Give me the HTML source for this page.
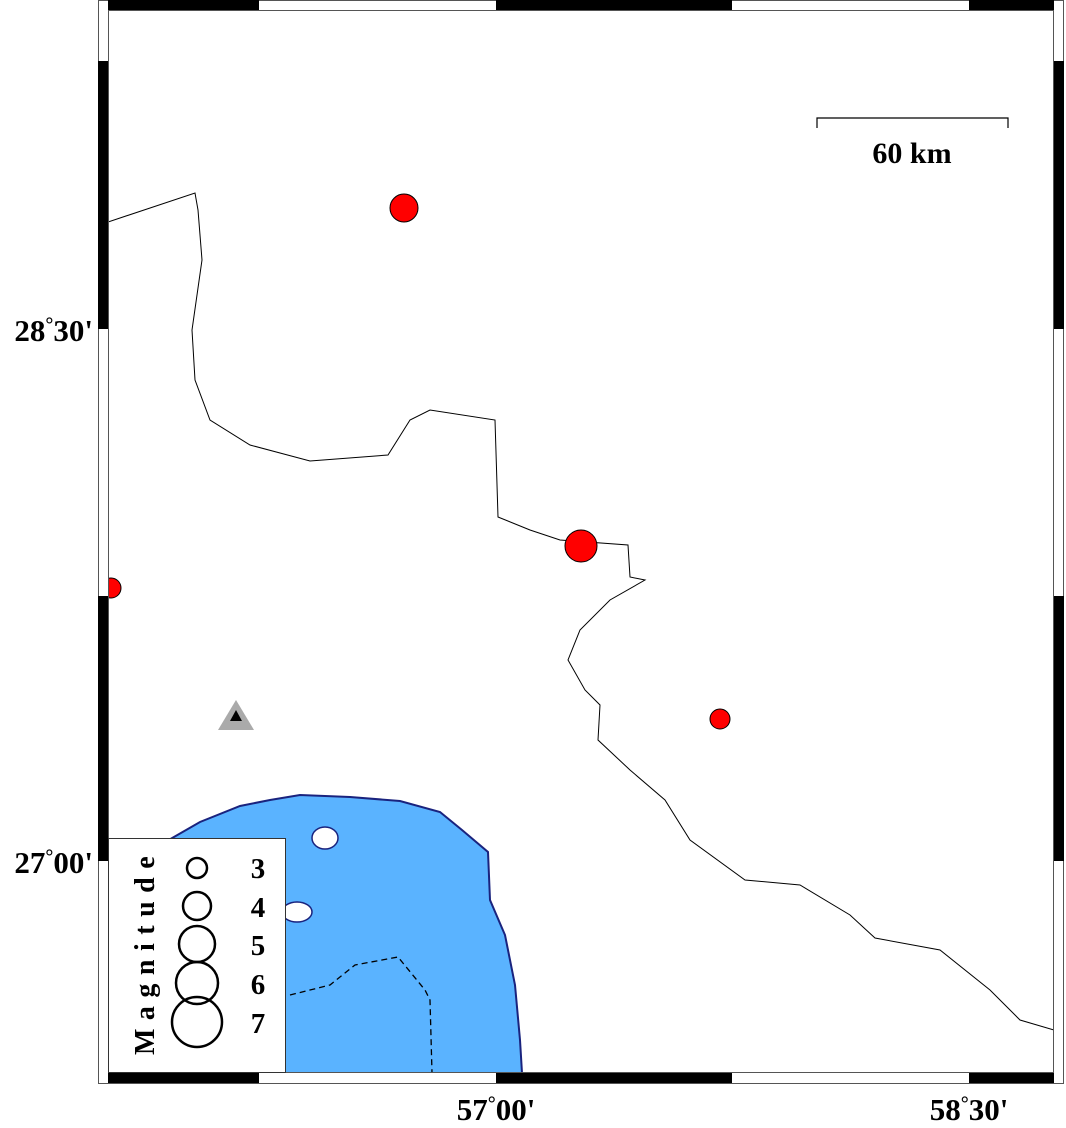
<!DOCTYPE html>
<html><head><style>
body{margin:0;background:#fff;width:1066px;height:1123px;overflow:hidden}
text{font-family:"Liberation Serif",serif;font-weight:bold}
</style></head><body>
<svg width="1066" height="1123" viewBox="0 0 1066 1123">
<defs><clipPath id="c"><rect x="108" y="10" width="946" height="1063"/></clipPath></defs>
<g clip-path="url(#c)">
<path d="M160,845 L200,822 L240,806 L270,800 L300,795 L350,797 L400,801 L440,812 L462,830 L488,852 L490,900 L505,935 L515,985 L520,1040 L522,1073 L108,1073 L108,880 Z" fill="#5ab3ff" stroke="#1a237e" stroke-width="2"/>
<ellipse cx="325" cy="838" rx="13" ry="11" fill="#fff" stroke="#1a237e" stroke-width="1.5"/>
<ellipse cx="297" cy="912" rx="15" ry="10" fill="#fff" stroke="#1a237e" stroke-width="1.5"/>
<path d="M290,995 L330,985 L355,965 L398,957 L425,990 L430,1000 L432,1073" fill="none" stroke="#000" stroke-width="1.3" stroke-dasharray="6,4"/>
<path d="M108,222 L195,193 L198,210 L202,260 L192,330 L195,380 L210,420 L250,445 L310,461 L388,455 L410,420 L430,410 L495,420 L498,517 L530,530 L560,540 L628,545 L630,577 L645,580 L610,600 L580,630 L568,660 L585,690 L600,705 L598,740 L630,770 L665,800 L690,840 L745,880 L800,885 L850,915 L875,938 L940,950 L990,990 L1020,1020 L1054,1030" fill="none" stroke="#000" stroke-width="1"/>
<circle cx="404" cy="208" r="14" fill="#f00" stroke="#000"/>
<circle cx="581" cy="546" r="16" fill="#f00" stroke="#000"/>
<circle cx="111" cy="588" r="10" fill="#f00" stroke="#000"/>
<circle cx="720" cy="719" r="10" fill="#f00" stroke="#000"/>
<polygon points="236,700 254,730 218,730" fill="#aaa"/>
<polygon points="236,710 242,721 230,721" fill="#000"/>
</g>
<rect x="98.5" y="0.5" width="965" height="1083" fill="none" stroke="#555"/>
<rect x="108.5" y="10.5" width="945" height="1062" fill="none" stroke="#555"/>
<g fill="#000">
<rect x="108" y="0" width="151" height="10"/><rect x="496" y="0" width="236" height="10"/><rect x="969" y="0" width="85" height="10"/>
<rect x="108" y="1073" width="151" height="10"/><rect x="496" y="1073" width="236" height="10"/><rect x="969" y="1073" width="85" height="10"/>
<rect x="98" y="61" width="10" height="268"/><rect x="98" y="596" width="10" height="265"/>
<rect x="1054" y="61" width="10" height="268"/><rect x="1054" y="596" width="10" height="265"/>
</g>
<rect x="108.5" y="838.5" width="177" height="234" fill="#fff" stroke="#333"/>
<g fill="none" stroke="#000" stroke-width="2.5">
<circle cx="197" cy="868" r="10"/><circle cx="197" cy="906" r="14"/><circle cx="197" cy="944" r="18"/><circle cx="197" cy="983" r="21"/><circle cx="197" cy="1022" r="25"/>
</g>
<g font-size="29" text-anchor="middle">
<text x="258" y="878">3</text><text x="258" y="917">4</text><text x="258" y="955">5</text><text x="258" y="994">6</text><text x="258" y="1033">7</text>
</g>
<text transform="translate(154,1055) rotate(-90)" font-size="28" letter-spacing="8.5">Magnitude</text>
<path d="M817,128 L817,118 L1008,118 L1008,128" fill="none" stroke="#000" stroke-width="1.2"/>
<text x="912" y="163" font-size="30" text-anchor="middle">60 km</text>
<g font-size="31">
<text x="93" y="341" text-anchor="end">28<tspan font-size="20" dy="-10">°</tspan><tspan dy="10">30'</tspan></text>
<text x="93" y="873" text-anchor="end">27<tspan font-size="20" dy="-10">°</tspan><tspan dy="10">00'</tspan></text>
<text x="496" y="1120" text-anchor="middle">57<tspan font-size="20" dy="-10">°</tspan><tspan dy="10">00'</tspan></text>
<text x="969" y="1120" text-anchor="middle">58<tspan font-size="20" dy="-10">°</tspan><tspan dy="10">30'</tspan></text>
</g>
</svg>
</body></html>
